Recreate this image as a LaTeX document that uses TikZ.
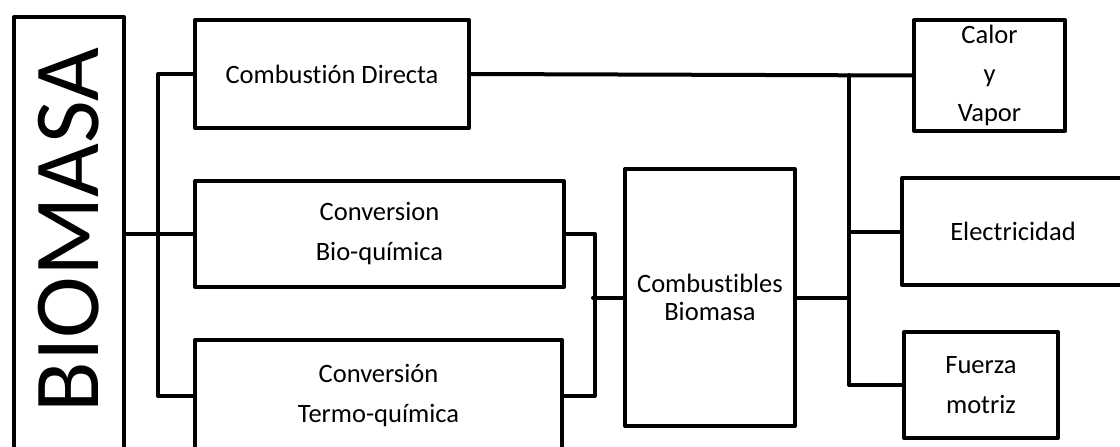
\documentclass[tikz,border=0pt]{standalone}
\usepackage{fontspec}
\setmainfont[Ligatures=NoCommon]{Carlito}
\begin{document}
\begin{tikzpicture}[x=1pt,y=-1pt,line cap=round,line join=round,
	caja/.style={draw,line width=4pt,inner sep=0pt,align=center,font=\fontsize{26.5}{40}\selectfont},
	enlace/.style={line width=4pt}]
	\useasboundingbox (0,0) rectangle (1120,447);
	\clip (0,0) rectangle (1120,447);
	% cajas
	\node[caja,minimum width=110pt,minimum height=446pt,font=\fontsize{93}{100}\selectfont] (bio) at (69,240) {\raisebox{20pt}{\rotatebox{90}{BIOMASA}}};
	\node[caja,minimum width=274pt,minimum height=108pt] (cd) at (332,74) {Combustión Directa};
	\node[caja,minimum width=369pt,minimum height=106pt] (bq) at (379.5,234) {Conversion\\Bio-química};
	\node[caja,minimum width=367pt,minimum height=112pt] (tq) at (378.5,396) {Conversión\\Termo-química};
	\node[caja,minimum width=170pt,minimum height=257pt,font=\fontsize{26.5}{28}\selectfont] (cb) at (710,297.5) {Combustibles\\Biomasa};
	\node[caja,minimum width=151pt,minimum height=111pt,font=\fontsize{26.5}{39}\selectfont] (cv) at (989.5,75.5) {Calor\\y\\Vapor};
	\node[caja,minimum width=222pt,minimum height=107pt] (el) at (1013,231.5) {Electricidad};
	\node[caja,minimum width=154pt,minimum height=106pt] (fm) at (981,385) {Fuerza\\motriz};
	% enlaces
	\draw[enlace] (cd.west) -- ++(-35,0) |- (tq.west);
	\draw[enlace] (bio.east |- bq.west) -- (bq.west);
	\draw[enlace] (bq.east) -- ++(29,0) |- (tq.east);
	\draw[enlace] (cb.west) -- ++(-30,0);
	\draw[enlace] (cd.east) -- (cv.west);
	\coordinate (bus) at (849,75);
	\draw[enlace] (bus) |- (fm.west);
	\draw[enlace] (bus |- el.west) -- (el.west);
	\draw[enlace] (cb.east) -- (bus |- cb.east);
\end{tikzpicture}
\end{document}
